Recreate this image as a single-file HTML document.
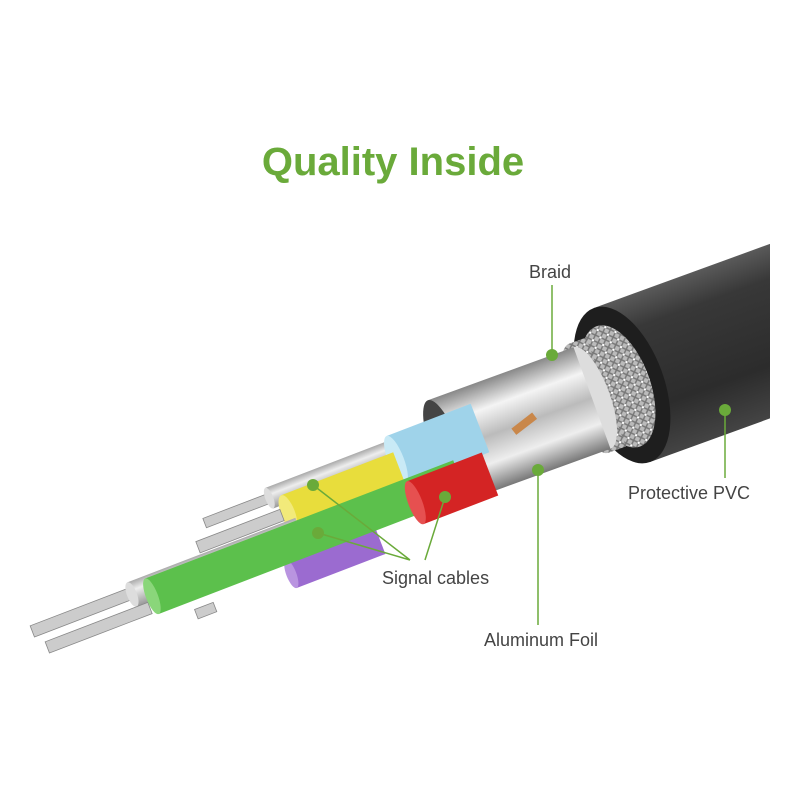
<!DOCTYPE html>
<html><head><meta charset="utf-8"><style>
html,body{margin:0;padding:0;background:#fff}
svg{display:block}
.l{font-family:"Liberation Sans",sans-serif;font-size:18px;fill:#444}
</style></head><body>
<svg width="800" height="800" viewBox="0 0 800 800" xmlns="http://www.w3.org/2000/svg">
<defs>
<linearGradient id="blk" x1="0" y1="0" x2="0" y2="1"><stop offset="0" stop-color="#5a5a5a"/><stop offset="0.2" stop-color="#383838"/><stop offset="0.7" stop-color="#2c2c2c"/><stop offset="1" stop-color="#444"/></linearGradient>
<linearGradient id="sil" x1="0" y1="0" x2="0" y2="1"><stop offset="0" stop-color="#888"/><stop offset="0.25" stop-color="#f4f4f4"/><stop offset="0.5" stop-color="#bbb"/><stop offset="0.75" stop-color="#eee"/><stop offset="1" stop-color="#777"/></linearGradient>
<linearGradient id="gr" x1="0" y1="0" x2="0" y2="1"><stop offset="0" stop-color="#aaa"/><stop offset="0.35" stop-color="#eee"/><stop offset="1" stop-color="#999"/></linearGradient>
<pattern id="br" width="8" height="8" patternUnits="userSpaceOnUse"><rect width="8" height="8" fill="#bbb"/><path d="M0 0L8 8M8 0L0 8" stroke="#777" stroke-width="1.5"/><rect x="3" y="3" width="2" height="2" fill="#fff"/></pattern>
<clipPath id="cp"><rect x="0" y="0" width="770" height="800"/></clipPath>
</defs>
<text x="393" y="175" text-anchor="middle" font-family="'Liberation Sans',sans-serif" font-weight="bold" font-size="40" fill="#6aaa3a">Quality Inside</text>

<!-- black jacket -->
<g clip-path="url(#cp)">
<g transform="translate(622,385) rotate(-20)">
<rect x="0" y="-82" width="300" height="164" fill="url(#blk)"/>
<ellipse cx="0" cy="0" rx="42" ry="82" fill="#1e1e1e"/>
<ellipse cx="-4" cy="0" rx="32" ry="64" fill="url(#br)"/>
</g>
</g>
<!-- braid -->
<g transform="translate(606,392) rotate(-20)">
<rect x="-18" y="-58" width="18" height="116" fill="url(#br)"/>
<ellipse cx="-18" cy="0" rx="20" ry="58" fill="url(#br)"/>
</g>
<!-- foil -->
<g transform="translate(592,398) rotate(-20)">
<ellipse cx="0" cy="0" rx="18" ry="54" fill="#ddd"/>
<rect x="-155" y="-54" width="155" height="108" fill="url(#sil)"/>
<ellipse cx="-155" cy="0" rx="15" ry="54" fill="#444"/>
<path d="M-60 -3 l-25 8" stroke="#c9874a" stroke-width="8"/>
</g>
<!-- gray top strand wire -->
<g transform="translate(270,498) rotate(-21)"><rect x="-70" y="-5" width="70" height="10" fill="#ccc" stroke="#888" stroke-width="0.8"/></g>
<g transform="translate(400,448) rotate(-21)"><rect x="-140" y="-11" width="140" height="22" fill="url(#gr)"/><ellipse cx="-140" cy="0" rx="4" ry="11" fill="#ddd"/></g>
<!-- blue -->
<g transform="translate(480,428) rotate(-21)"><rect x="-90" y="-26" width="90" height="52" fill="#9fd3ea"/><ellipse cx="-90" cy="0" rx="8" ry="26" fill="#c9eaf6"/></g>
<!-- yellow -->
<g transform="translate(400,470) rotate(-21)"><rect x="-120" y="-19" width="120" height="38" fill="#e8dd3c"/><ellipse cx="-120" cy="0" rx="7" ry="19" fill="#f2ea7a"/></g>
<g transform="translate(282,515) rotate(-21)"><rect x="-90" y="-6" width="90" height="12" fill="#ccc" stroke="#888" stroke-width="0.8"/></g>
<!-- long gray + wires -->
<g transform="translate(135,592) rotate(-21)"><rect x="-110" y="-6" width="110" height="12" fill="#ccc" stroke="#888" stroke-width="0.8"/></g>
<g transform="translate(300,530) rotate(-21)"><rect x="-180" y="-13" width="180" height="26" fill="url(#gr)"/><ellipse cx="-180" cy="0" rx="5" ry="13" fill="#ddd"/></g>
<!-- purple -->
<g transform="translate(215,607) rotate(-21)"><rect x="-20" y="-5" width="20" height="10" fill="#ccc" stroke="#888" stroke-width="0.8"/></g>
<g transform="translate(380,540) rotate(-21)"><rect x="-95" y="-15" width="95" height="30" fill="#9b6bd0"/><ellipse cx="-95" cy="0" rx="5" ry="15" fill="#b994e0"/></g>
<!-- green -->
<g transform="translate(150,608) rotate(-21)"><rect x="-110" y="-6" width="110" height="12" fill="#ccc" stroke="#888" stroke-width="0.8"/></g>
<g transform="translate(460,478) rotate(-21)"><rect x="-330" y="-19" width="330" height="38" fill="#5cc04c"/><ellipse cx="-330" cy="0" rx="6" ry="19" fill="#8ad67a"/></g>
<!-- red -->
<g transform="translate(490,474) rotate(-21)"><rect x="-80" y="-23" width="80" height="46" fill="#d42424"/><ellipse cx="-80" cy="0" rx="7" ry="23" fill="#e65050"/></g>

<!-- callouts -->
<g stroke="#6aaa3a" stroke-width="1.5" fill="none">
<path d="M552 285V355"/><path d="M725 410V478"/><path d="M538 470V625"/>
<path d="M313 485L410 560M318 533L410 560M445 497L425 560"/>
</g>
<g fill="#6aaa3a">
<circle cx="552" cy="355" r="6"/><circle cx="725" cy="410" r="6"/><circle cx="538" cy="470" r="6"/>
<circle cx="313" cy="485" r="6"/><circle cx="318" cy="533" r="6"/><circle cx="445" cy="497" r="6"/>
</g>
<text class="l" x="529" y="278">Braid</text>
<text class="l" x="628" y="499">Protective PVC</text>
<text class="l" x="382" y="584">Signal cables</text>
<text class="l" x="484" y="646">Aluminum Foil</text>
</svg>
</body></html>
